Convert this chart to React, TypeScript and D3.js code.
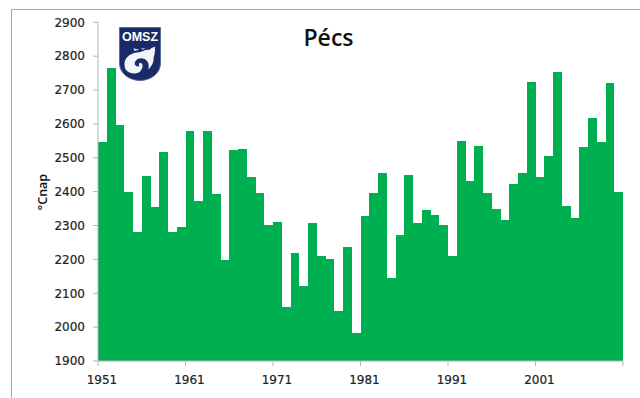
import React from "react";
import * as d3 from "d3";

const years = d3.range(1951, 2011);
const values = [
  2547, 2765, 2597, 2398, 2280, 2447, 2354, 2516, 2282, 2295,
  2578, 2373, 2580, 2392, 2198, 2523, 2526, 2442, 2395, 2303,
  2310, 2060, 2218, 2122, 2307, 2211, 2200, 2047, 2238, 1982,
  2328, 2395, 2455, 2146, 2273, 2450, 2308, 2346, 2331, 2302,
  2211, 2550, 2430, 2536, 2396, 2349, 2316, 2424, 2456, 2723,
  2443, 2505, 2754, 2358, 2322, 2531, 2616, 2547, 2720, 2398,
];
const yTicks = [1900, 2000, 2100, 2200, 2300, 2400, 2500, 2600, 2700, 2800, 2900];
const xTickYears = [1951, 1961, 1971, 1981, 1991, 2001];
const title = "Pécs";
const yLabel = "°Cnap";

const W = 640;
const H = 398;
const GREEN = "#00b050";
const AXIS = "#b4b4b4";
const TEXT = "#222";
const TICK_FONT = "'DejaVu Sans', sans-serif";

const x = d3.scaleBand<number>().domain(years).range([98, 623]).paddingInner(0).paddingOuter(0);
const y = d3.scaleLinear().domain([1900, 2900]).range([361, 22.3]);

// Shield emblem of the weather service with its cyclone swirl.
function Emblem() {
  return (
    <g transform="translate(119,27)">
      <path
        d="M0.5,0.5 H41.5 V36 C41.5,47 31,53.5 21,53.5 C11,53.5 0.5,47 0.5,36 Z"
        fill="#1a2a66"
        stroke="#5a6a9a"
        strokeWidth={1}
      />
      <text
        x={21}
        y={13.5}
        textAnchor="middle"
        fontFamily="'Liberation Sans', sans-serif"
        fontWeight={700}
        fontSize={12.5}
        fill="#fff"
      >
        OMSZ
      </text>
      <g transform="translate(3,9) scale(0.88)">
        <path
          d="M4,38 C1,30 4,24 10,21 C15,18 20,19 24,17 C28,15 31,16 32,15 C34,13 36,13 38,12 C36,15 39,15 37,18 C38,21 36,22 36,25 C36,31 33,35 30,38 C31,33 30,29 27,27 C23,24 17,25 15,29 C13,33 17,36 20,34 C18,33 19,30 22,31 C25,33 23,38 20,41 C15,44 8,43 4,38 Z"
          fill="#f2f4fa"
        />
        <path
          d="M13,14 L20,15.5 L14,17 Z M22,13.5 L27,14.5 L23,15.5 Z"
          fill="#c8cfe4"
        />
      </g>
    </g>
  );
}

export default function App() {
  const plotBottom = y(1900);
  return (
    <svg
      width={W}
      height={H}
      viewBox={`0 0 ${W} ${H}`}
      style={{ position: "fixed", left: 0, top: 0, background: "#fff" }}
    >
      {/* Frame: only the top and left edges fall inside the view */}
      <path d={`M11.5,${H} V9.5 H${W}`} fill="none" stroke="#a8a8a8" strokeWidth={1} />

      {/* Bars */}
      <g fill={GREEN} shapeRendering="crispEdges">
        {years.map((yr, i) => (
          <rect
            key={yr}
            x={x(yr)}
            y={y(values[i])}
            width={x.bandwidth()}
            height={plotBottom - y(values[i])}
          />
        ))}
      </g>

      {/* Value axis */}
      <g>
        <line x1={98} x2={98} y1={y(2900)} y2={plotBottom} stroke={AXIS} />
        {yTicks.map((t) => (
          <g key={t}>
            <line x1={93} x2={98} y1={y(t)} y2={y(t)} stroke={AXIS} />
            <text
              x={85}
              y={y(t)}
              dy="0.36em"
              textAnchor="end"
              fontFamily={TICK_FONT}
              fontSize={12}
              fill={TEXT}
              stroke={TEXT}
              strokeWidth={0.2}
            >
              {t}
            </text>
          </g>
        ))}
      </g>

      {/* Year axis */}
      <g>
        <line x1={98} x2={623} y1={plotBottom} y2={plotBottom} stroke={AXIS} />
        {[...xTickYears, 2011].map((t) => {
          const px = t === 2011 ? x.range()[1] : (x(t) as number);
          return <line key={t} x1={px} x2={px} y1={plotBottom} y2={plotBottom + 5} stroke={AXIS} />;
        })}
        {xTickYears.map((t) => (
          <text
            key={t}
            x={(x(t) as number) + 4}
            y={380}
            dy="0.36em"
            textAnchor="middle"
            fontFamily={TICK_FONT}
            fontSize={12}
            fill={TEXT}
            stroke={TEXT}
            strokeWidth={0.2}
          >
            {t}
          </text>
        ))}
      </g>

      <text
        transform="translate(46.5,192) rotate(-90)"
        textAnchor="middle"
        fontFamily="'Open Sans', sans-serif"
        fontWeight={600}
        fontSize={12.5}
        fill="#111"
      >
        {yLabel}
      </text>

      <text
        x={328.5}
        y={45.5}
        textAnchor="middle"
        fontFamily="'Open Sans', sans-serif"
        fontWeight={600}
        fontSize={23}
        fill="#111"
      >
        {title}
      </text>

      <Emblem />
    </svg>
  );
}
